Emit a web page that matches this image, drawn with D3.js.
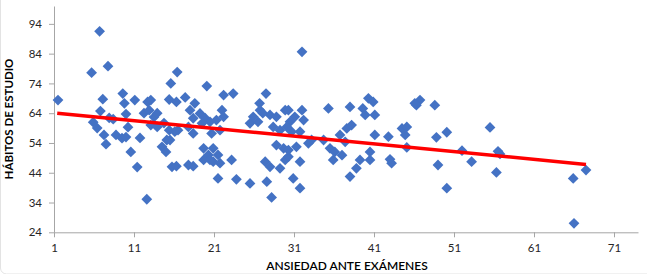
<!DOCTYPE html>
<html>
<head>
<meta charset="utf-8">
<script src="https://cdn.jsdelivr.net/npm/d3@7"></script>
<style>
  body { margin: 0; background: #fff; }
  #wrapper svg { display: block; }
  .tick text { font-family: Lato, "Open Sans", sans-serif; font-size: 11.5px; fill: #262626; }
  .axis-title { font-family: Lato, "Open Sans", sans-serif; fill: #000; }
</style>
</head>
<body>
<div id="wrapper"></div>
<script>
// ansiedad ante examenes (x) / habitos de estudio (y)
const anxiety = [
  1.5, 5.7, 7.75, 6.7, 7.1, 9.6, 9.8, 11.1, 12.7, 13.1, 15.4, 15.6, 16.4,
  5.9, 6.4, 7.25, 7.5, 6.8, 7.9, 8.4, 8.75, 9.5, 10, 10.25, 10, 10.6, 11.75, 11.4, 12.6,
  12.25, 12.9, 13.5, 13.1, 13.9, 14.75, 15.1, 14.5, 15, 13.9, 15.4, 15.75,
  20.1, 17.4, 16.3, 18.6, 22.2, 23.4, 22, 19.25, 19.9, 22.2, 20.5, 18.4, 16.5, 17.8,
  18.4, 20.7, 21.75, 19.7, 20.3, 19.7, 20.9, 21.75, 23.2, 16.3, 17.8, 18.4, 21.5, 23.8,
  25.5, 27.6, 28.2, 27.5, 26.7, 26.75, 25.5, 26.5, 28, 28.8, 29.9, 28.4, 29.25, 28.8,
  29.7, 27.4, 28, 29.25, 29.9, 18, 19.5, 21.3, 15.5, 16.1, 20.9, 21.5, 20.5, 25.9, 27.1,
  30.3, 32, 35.3, 38, 40.3, 40.9, 39.6, 39.9, 41.1, 31.1, 32.2, 30.5, 30.7, 31.75, 33.2,
  32.8, 34.7, 36.75, 37.6, 38.2, 37.4, 35.5, 36.1, 37, 35.9, 40.5, 39.25, 40.5, 38.8, 38,
  41.1, 42.8, 44.5, 43.2, 31.3, 30.3, 31.75, 30.9, 31.75, 32, 30.1, 30.3, 43,
  46.75, 46.3, 48.6, 45.1, 44.9, 45.1, 48.8, 50.1, 49, 50.1, 52, 53.2, 55.5, 56.75, 56.3, 46.1,
  65.9, 67.5, 66, 56.5
]
const studyHabits = [
  68.4, 77.6, 79.8, 91.5, 68.7, 70.6, 67.3, 68.4, 67.8, 68.4, 68.6, 74.0, 77.8,
  61.0, 59.0, 56.7, 53.6, 64.7, 62.4, 62.0, 56.7, 55.6, 56.0, 59.3, 63.7, 51.0, 55.7, 45.9, 35.1,
  64.0, 65.0, 62.7, 60.0, 59.4, 60.7, 55.0, 52.7, 51.0, 64.0, 58.3, 46.0,
  73.1, 69.3, 67.8, 67.3, 70.1, 70.6, 65.0, 63.9, 62.3, 62.8, 61.1, 62.3, 58.3, 59.4,
  57.2, 57.2, 58.3, 52.2, 50.0, 48.3, 47.7, 47.2, 48.3, 46.2, 46.6, 46.2, 42.1, 41.8,
  40.4, 41.0, 35.7, 70.6, 67.3, 65.0, 60.6, 61.1, 63.4, 62.8, 65.0, 59.4, 58.3, 53.3,
  52.2, 47.7, 46.0, 45.5, 48.3, 65.0, 60.6, 61.7, 55.0, 57.8, 52.2, 50.0, 48.3, 62.8, 64.0,
  65.0, 65.0, 65.6, 66.1, 69.0, 67.8, 65.6, 63.4, 63.4, 62.8, 61.7, 61.1, 57.8, 57.8, 55.0,
  53.9, 55.0, 56.7, 58.9, 60.0, 54.4, 52.2, 51.0, 49.9, 48.3, 51.0, 48.3, 48.3, 45.5, 42.7,
  56.7, 56.1, 58.9, 47.2, 52.7, 49.4, 47.7, 42.1, 38.8, 84.6, 59.4, 51.6, 48.5,
  68.4, 66.7, 66.7, 59.4, 56.7, 52.5, 55.9, 57.6, 46.6, 38.8, 51.4, 47.7, 59.2, 50.3, 44.1, 67.3,
  42.1, 44.9, 27.0, 51.2
]
// linear trend line end points
const trendX = [1.4, 67.5]
const trendY = [64.0, 46.8]

const xTicks = [1, 11, 21, 31, 41, 51, 61, 71]
const yTicks = [24, 34, 44, 54, 64, 74, 84, 94]
const xTitle = "ANSIEDAD ANTE EXÁMENES"
const yTitle = "HÁBITOS DE ESTUDIO"

const dataset = anxiety.map((d, i) => ({x: d, y: studyHabits[i]}))

let dimensions = {
  width: 647,
  height: 274,
  margin: {top: 6, right: 9, bottom: 41.7, left: 54},
}
dimensions.boundedWidth = dimensions.width - dimensions.margin.left - dimensions.margin.right
dimensions.boundedHeight = dimensions.height - dimensions.margin.top - dimensions.margin.bottom

const wrapper = d3.select("#wrapper")
  .append("svg")
    .attr("width", dimensions.width)
    .attr("height", dimensions.height)

// chart frame, mostly outside the window
wrapper.append("rect")
    .attr("x", 0.5)
    .attr("y", -12)
    .attr("width", 670)
    .attr("height", 286)
    .attr("rx", 6)
    .attr("fill", "none")
    .attr("stroke", "#e3e3e3")

const bounds = wrapper.append("g")
    .attr("transform", `translate(${dimensions.margin.left},${dimensions.margin.top})`)

const xScale = d3.scaleLinear()
    .domain([1, 74])
    .range([0, dimensions.boundedWidth])

const yScale = d3.scaleLinear()
    .domain([24, 100])
    .range([dimensions.boundedHeight, 0])

// axes
const xAxis = bounds.append("g")
    .attr("transform", `translate(0,${dimensions.boundedHeight})`)
    .call(d3.axisBottom(xScale).tickValues(xTicks).tickSize(5).tickPadding(7).tickSizeOuter(0))
const yAxis = bounds.append("g")
    .call(d3.axisLeft(yScale).tickValues(yTicks).tickSize(5).tickPadding(7).tickSizeOuter(0))

bounds.selectAll(".domain, .tick line").attr("stroke", "#a6a6a6")

// points
const diamond = d3.symbol().type(d3.symbolSquare).size(58)
bounds.append("g")
  .selectAll("path")
  .data(dataset)
  .join("path")
    .attr("d", diamond)
    .attr("transform", d => `translate(${xScale(d.x)},${yScale(d.y)}) rotate(45)`)
    .attr("fill", "#4472c4")

// trend line
const lineGenerator = d3.line()
    .x(d => xScale(d[0]))
    .y(d => yScale(d[1]))
bounds.append("path")
    .attr("d", lineGenerator(d3.zip(trendX, trendY)))
    .attr("fill", "none")
    .attr("stroke", "#ff0000")
    .attr("stroke-width", 3.5)

// axis titles
wrapper.append("text")
    .attr("class", "axis-title")
    .attr("x", 347)
    .attr("y", 270)
    .attr("text-anchor", "middle")
    .style("font-size", "12px")
    .style("font-weight", 600)
    .text(xTitle)

wrapper.append("text")
    .attr("class", "axis-title")
    .attr("transform", "translate(13,119) rotate(-90)")
    .attr("text-anchor", "middle")
    .style("font-size", "11.5px")
    .style("font-weight", 700)
    .text(yTitle)
</script>
</body>
</html>
